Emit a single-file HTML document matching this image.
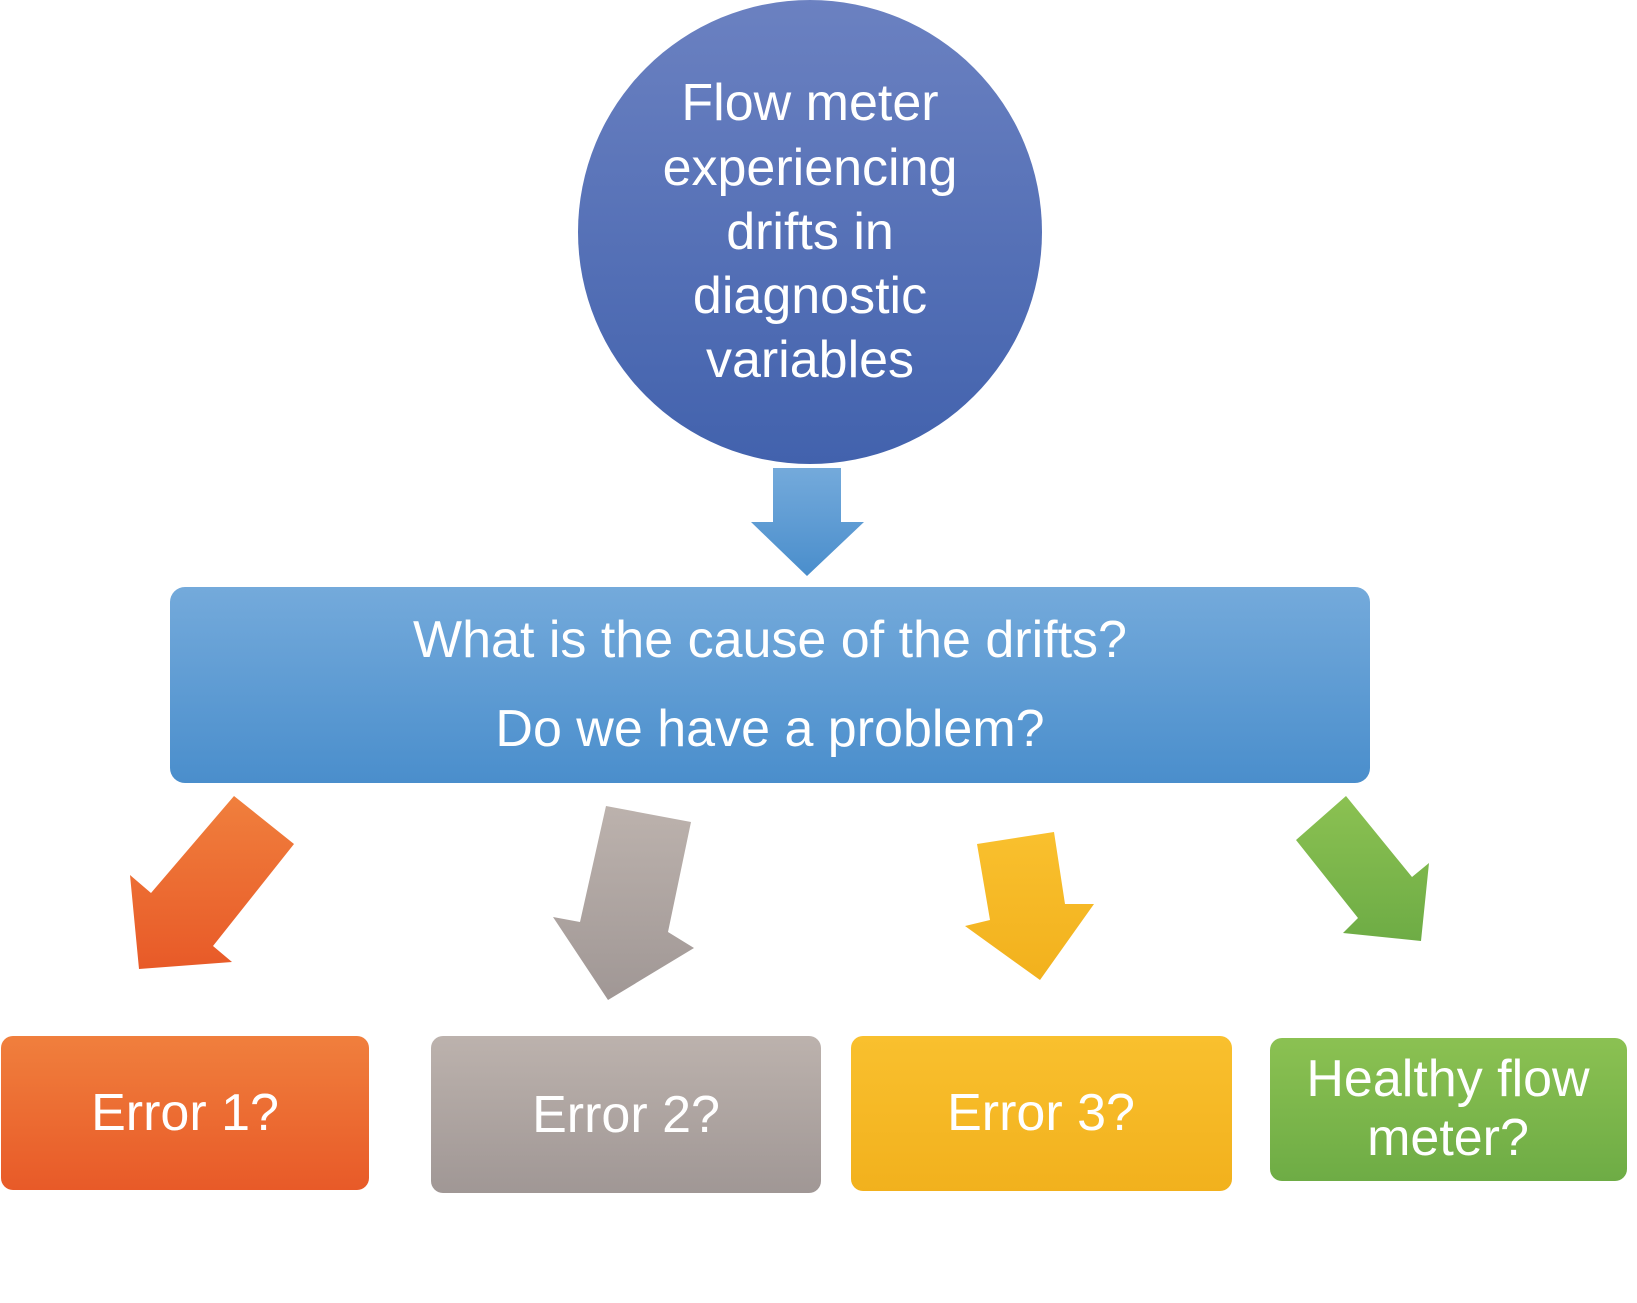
<!DOCTYPE html>
<html><head><meta charset="utf-8"><style>
html,body{margin:0;padding:0;background:#fff}
body{width:1637px;height:1303px;position:relative;overflow:hidden;font-family:"Liberation Sans",sans-serif}
svg{position:absolute;left:0;top:0}
</style></head><body>
<svg width="1637" height="1303" viewBox="0 0 1637 1303" xmlns="http://www.w3.org/2000/svg">
<defs>
<linearGradient id="gc" x1="0" y1="0" x2="0" y2="1"><stop offset="0" stop-color="#6b81c1"/><stop offset="1" stop-color="#4262ad"/></linearGradient>
<linearGradient id="gb" x1="0" y1="0" x2="0" y2="1"><stop offset="0" stop-color="#74aadb"/><stop offset="1" stop-color="#4a8ecc"/></linearGradient>
<linearGradient id="go" x1="0" y1="0" x2="0" y2="1"><stop offset="0" stop-color="#f07f3d"/><stop offset="1" stop-color="#e85a28"/></linearGradient>
<linearGradient id="gg" x1="0" y1="0" x2="0" y2="1"><stop offset="0" stop-color="#bcb2ad"/><stop offset="1" stop-color="#a09795"/></linearGradient>
<linearGradient id="gy" x1="0" y1="0" x2="0" y2="1"><stop offset="0" stop-color="#f9c02e"/><stop offset="1" stop-color="#f2b11d"/></linearGradient>
<linearGradient id="gn" x1="0" y1="0" x2="0" y2="1"><stop offset="0" stop-color="#8bc152"/><stop offset="1" stop-color="#6eac45"/></linearGradient>
</defs>
<circle cx="810" cy="232" r="232" fill="url(#gc)"/>
<g fill="#fff" font-size="52" text-anchor="middle">
<text x="810" y="120">Flow meter</text>
<text x="810" y="185">experiencing</text>
<text x="810" y="249">drifts in</text>
<text x="810" y="313">diagnostic</text>
<text x="810" y="377">variables</text>
</g>
<polygon points="773,468 841,468 841,522 864,522 807,576 751,522 773,522" fill="url(#gb)"/>
<rect x="170" y="587" width="1200" height="196" rx="15" fill="url(#gb)"/>
<g fill="#fff" font-size="52" text-anchor="middle">
<text x="770" y="657">What is the cause of the drifts?</text>
<text x="770" y="746">Do we have a problem?</text>
</g>
<polygon points="294,844 234,796 151,893 130,875 139,969 232,962 213,946" fill="url(#go)"/>
<polygon points="606,806 691,822 668,932 694,948 608,1000 553,917 580,922" fill="url(#gg)"/>
<polygon points="977,844 1054,832 1065,904 1094,904 1040,980 965,926 990,920" fill="url(#gy)"/>
<polygon points="1346,796 1296,840 1358,918 1343,933 1421,941 1429,863 1412,877" fill="url(#gn)"/>
<rect x="1" y="1036" width="368" height="154" rx="12" fill="url(#go)"/>
<rect x="431" y="1036" width="390" height="157" rx="12" fill="url(#gg)"/>
<rect x="851" y="1036" width="381" height="155" rx="12" fill="url(#gy)"/>
<rect x="1270" y="1038" width="357" height="143" rx="12" fill="url(#gn)"/>
<g fill="#fff" font-size="52" text-anchor="middle">
<text x="185" y="1130">Error 1?</text>
<text x="626" y="1132">Error 2?</text>
<text x="1041" y="1130">Error 3?</text>
<text x="1448" y="1096">Healthy flow</text>
<text x="1448" y="1155">meter?</text>
</g>
</svg>
</body></html>
